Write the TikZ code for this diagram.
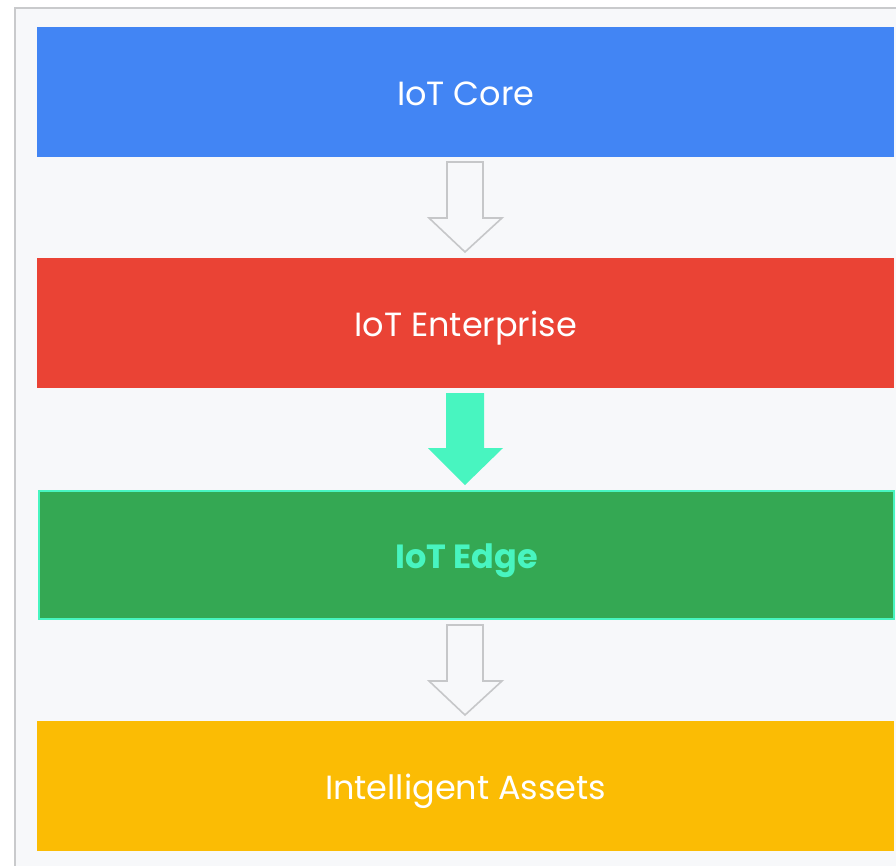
\documentclass[tikz,border=0pt]{standalone}
\usepackage{fontspec}
\setmainfont{Poppins}
\definecolor{bgc}{HTML}{F7F8FA}
\definecolor{frame}{HTML}{C9CACC}
\definecolor{gblue}{HTML}{4285F4}
\definecolor{gred}{HTML}{EA4335}
\definecolor{ggreen}{HTML}{34A853}
\definecolor{gyellow}{HTML}{FBBC04}
\definecolor{mint}{HTML}{48F5C0}
\definecolor{arrgrey}{HTML}{C6C7C9}
\tikzset{
  layer/.style={minimum width=857pt, minimum height=130pt, inner sep=0pt, anchor=north west, text=white, font=\fontsize{33.5}{38}\selectfont, text height=27.5pt, text depth=0pt},
  hollowarrow/.style={draw=arrgrey, line width=1.6pt, fill=bgc, line join=miter},
  solidarrow/.style={fill=mint, draw=none},
}
\begin{document}
\begin{tikzpicture}[x=1pt,y=-1pt]
\useasboundingbox (0,0) rectangle (896,865);
\fill[white] (0,0) rectangle (896,865);
\fill[bgc] (15,8) rectangle (900,870);
\draw[frame, line width=2pt] (15,870) -- (15,8) -- (900,8);
\node[layer, fill=gblue] (core) at (37,27) {IoT Core};
\node[layer, fill=gred] (ent) at (37,258) {IoT Enterprise};
\node[layer, fill=ggreen, draw=mint, line width=2pt, minimum width=855pt, minimum height=128pt, text=mint, font=\fontsize{33.5}{38}\selectfont\bfseries] (edge) at (38,490) {IoT Edge};
\node[layer, fill=gyellow] (assets) at (37,721) {Intelligent Assets};
% arrows
\coordinate (a1) at (465,162);
\draw[hollowarrow] ([xshift=-18]a1) -- ++(0,56) -- ++(-18,0) -- (465,252) -- (502,218) -- ++(-19,0) -- ([xshift=18]a1) -- cycle;
\coordinate (a2) at (465,393);
\fill[solidarrow] ([xshift=-19]a2) -- ++(0,55) -- ++(-18,0) -- (465,485) -- (503,448) -- ++(-19,0) -- ([xshift=19]a2) -- cycle;
\coordinate (a3) at (465,625);
\draw[hollowarrow] ([xshift=-18]a3) -- ++(0,56) -- ++(-18,0) -- (465,715) -- (502,681) -- ++(-19,0) -- ([xshift=18]a3) -- cycle;
\end{tikzpicture}
\end{document}
